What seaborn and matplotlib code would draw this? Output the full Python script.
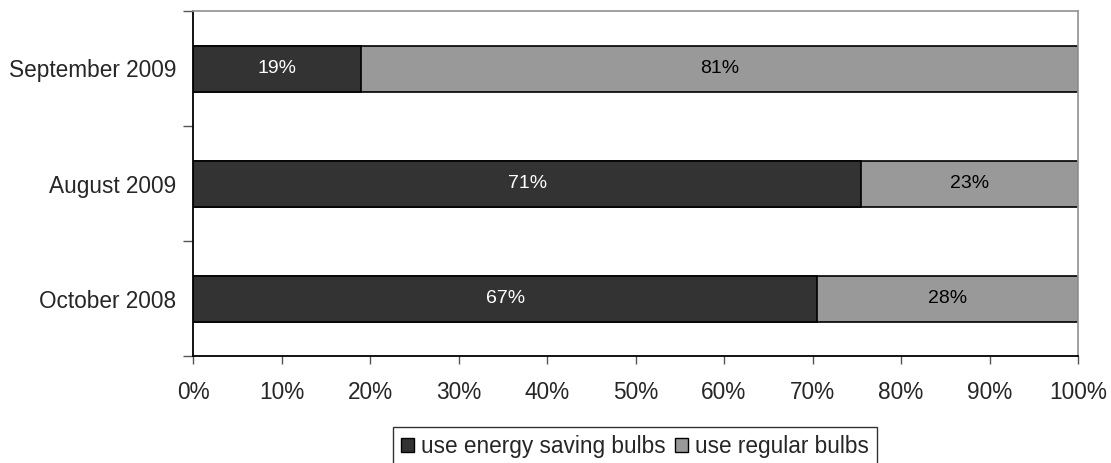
import matplotlib
matplotlib.use("Agg")
import matplotlib.pyplot as plt
import matplotlib.patches as mpatches
import seaborn as sns
import pandas as pd
from matplotlib.ticker import FixedLocator, PercentFormatter

periods = ["September 2009", "August 2009", "October 2008"]
energy_saving = [19, 71, 67]
regular = [81, 23, 28]

series_names = ["use energy saving bulbs", "use regular bulbs"]
dark = "#333333"
light = "#999999"

totals = [e + r for e, r in zip(energy_saving, regular)]
df = pd.DataFrame({
    "period": periods,
    "energy": energy_saving,
    "regular": regular,
    "energy_share": [e / t * 100 for e, t in zip(energy_saving, totals)],
    "total_share": [100.0] * len(periods),
})

sns.set_theme(style="white")
plt.rcParams["font.family"] = ["Liberation Sans", "DejaVu Sans"]

fig = plt.figure(figsize=(11.11, 4.63), dpi=100)
ax = fig.add_axes([193 / 1111, 1 - 356 / 463, 885 / 1111, 345 / 463])

# full-width bar for the regular share, energy-saving share drawn over it
sns.barplot(data=df, y="period", x="total_share", order=periods, color=light,
            edgecolor="black", linewidth=1.2, width=0.4, ax=ax, orient="h",
            saturation=1)
sns.barplot(data=df, y="period", x="energy_share", order=periods, color=dark,
            edgecolor="black", linewidth=1.2, width=0.4, ax=ax, orient="h",
            saturation=1)

for i, row in df.iterrows():
    ax.text(row["energy_share"] / 2, i, f"{row['energy']}%", ha="center",
            va="center", color="white", fontsize=14)
    ax.text((row["energy_share"] + 100) / 2, i, f"{row['regular']}%",
            ha="center", va="center", color="black", fontsize=14)

ax.set_xlim(0, 100)
ax.set_ylim(len(periods) - 0.5, -0.5)
ax.xaxis.set_major_locator(FixedLocator(range(0, 101, 10)))
ax.xaxis.set_major_formatter(PercentFormatter(decimals=0))

# category labels at centres, tick marks at category boundaries
ax.set_yticks([i - 0.5 for i in range(len(periods) + 1)])
ax.set_yticklabels([])
ax.set_yticks(range(len(periods)), minor=True)
ax.set_yticklabels(periods, minor=True)
ax.tick_params(axis="y", which="major", left=True, length=7, width=1,
               color="#555555")
ax.tick_params(axis="y", which="minor", left=True, length=0, pad=12,
               labelsize=16.3)
ax.tick_params(axis="x", which="major", bottom=True, length=6, width=1,
               color="#555555", labelsize=16.3, pad=12)
ax.set_xlabel("")
ax.set_ylabel("")

for side in ("left", "bottom"):
    ax.spines[side].set_color("black")
    ax.spines[side].set_linewidth(1.3)
for side in ("top", "right"):
    ax.spines[side].set_color("#999999")
    ax.spines[side].set_linewidth(1.3)

handles = [mpatches.Patch(facecolor=dark, edgecolor="black", label=series_names[0]),
           mpatches.Patch(facecolor=light, edgecolor="black", label=series_names[1])]
leg = fig.legend(handles=handles, loc="upper center", ncol=2,
                 bbox_to_anchor=(635 / 1111, 1 - 427 / 463), fontsize=16.3,
                 frameon=True, fancybox=False, edgecolor="black",
                 handlelength=0.6, handleheight=0.6, handletextpad=0.3,
                 columnspacing=0.4, borderpad=0.35, borderaxespad=0)
leg.get_frame().set_linewidth(1.0)

fig.savefig("out.png", dpi=100, facecolor="white")
